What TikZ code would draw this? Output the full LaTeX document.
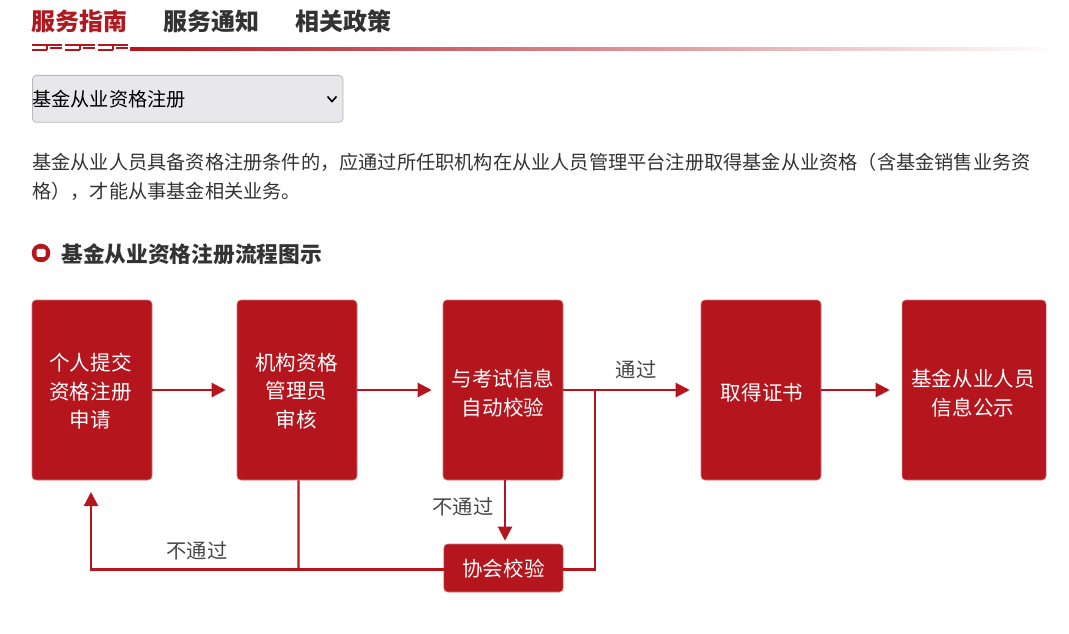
\documentclass[tikz,border=0pt]{standalone}
\usepackage{fontspec}
\setmainfont{Noto Sans CJK SC}
\usetikzlibrary{arrows.meta}
\definecolor{bred}{HTML}{B5151D}
\definecolor{tred}{HTML}{AF1A20}
\definecolor{dtxt}{HTML}{333333}
\definecolor{sel}{HTML}{E7E7EC}
\newcommand{\pxs}[1]{\fontsize{#1}{#1}\selectfont}
\newcommand{\btxt}[3]{\raisebox{#2}[0pt][0pt]{\hspace*{#1}\begin{tabular}{@{}c@{}}#3\end{tabular}}}
\tikzset{
  x=0.75pt,y=-0.75pt,
  flowbox/.style={fill=bred,draw=bred!60!white,line width=0.4pt,rounded corners=3pt,text=white,align=center,font=\pxs{15.4pt},inner sep=0pt},
  conn/.style={draw=bred,line width=1.6pt},
  arr/.style={conn,-{Triangle[length=10.5pt,width=10.5pt]}},
  lab/.style={text=dtxt!90!white,font=\pxs{15.2pt},inner sep=0pt},
  tab/.style={font=\pxs{18pt}\bfseries,inner sep=0pt,anchor=west},
  para/.style={text=dtxt,font=\pxs{14.4pt},inner sep=0pt,anchor=west},
}
\begin{document}
\begin{tikzpicture}
\useasboundingbox (0,0) rectangle (1069,634);
% tabs
\node[tab,text=tred] (t1) at (31,21) {服务指南};
\node[tab,text=dtxt] (t2) at (163,21) {服务通知};
\node[tab,text=dtxt] (t3) at (295,21) {相关政策};
% underline
\shade[left color=bred,right color=white,middle color=bred!50!white] (130,47.8) rectangle (1060,50.4);
% ornament
\foreach \a in {32,65,98}{
  \fill[bred] (\a,44) rectangle ++(30,2.2);
  \fill[bred] (\a,49) rectangle ++(15,2.2);
  \fill[bred] (\a+18,47.5) rectangle ++(12,2);
  \fill[bred] (\a+14,46) rectangle ++(1.6,4);
}
% select
\node[draw=black!28,fill=sel,line width=0.6pt,rounded corners=3pt,minimum width=233pt,minimum height=35.2pt,inner sep=0pt,anchor=north west] (sl) at (32,75) {};
\node[para,text=black] (sltxt) at (32,99) {基金从业资格注册};
\draw[black,line width=1.2pt] (327.5,96.5) -- (332,101.5) -- (336.5,96.5);
% paragraph
\node[para] (p1) at (32,162) {基金从业人员具备资格注册条件的，应通过所任职机构在从业人员管理平台注册取得基金从业资格（含基金销售业务资};
\node[para] (p2) at (32,191) {格），才能从事基金相关业务。};
% heading
\fill[bred] (41,253) circle (9.3);
\fill[white,rounded corners=1pt] (36.5,249) rectangle (45.5,257);
\node[para,font=\pxs{16.3pt}\bfseries] (h) at (61,254) {基金从业资格注册流程图示};
% boxes
\node[flowbox,minimum width=90pt,minimum height=135pt] (b1) at (92,390) {\btxt{-2.25pt}{-6.1pt}{个人提交\\[3.8pt]资格注册\\[3.8pt]申请}};
\node[flowbox,minimum width=90pt,minimum height=135pt] (b2) at (297,390) {\btxt{-0.75pt}{-6.1pt}{机构资格\\[3.8pt]管理员\\[3.8pt]审核}};
\node[flowbox,minimum width=90pt,minimum height=135pt] (b3) at (503,390) {\btxt{0pt}{-7.6pt}{与考试信息\\[3.8pt]自动校验}};
\node[flowbox,minimum width=90pt,minimum height=135pt] (b4) at (761,390) {\btxt{1.5pt}{-7.6pt}{取得证书}};
\node[flowbox,minimum width=108pt,minimum height=135pt] (b5) at (974,390) {\btxt{-1.5pt}{-7.6pt}{基金从业人员\\[3.8pt]信息公示}};
\node[flowbox,minimum width=89.5pt,minimum height=36pt] (b6) at (503.5,568) {\btxt{0pt}{-6.1pt}{协会校验}};
% free connector points
\coordinate (fb) at (91,492);
\coordinate (jl) at (91,569.5);
\coordinate (jm) at (298.5,569.5);
\coordinate (jr) at (595,569.5);
\coordinate (jt) at (595,390);
% connectors
\draw[arr,shorten >=8.25pt] (b1.east) -- (b2.west);
\draw[arr,shorten >=8.25pt] (b2.east) -- (b3.west);
\draw[arr,shorten >=8.25pt] (b3.east) -- (b4.west);
\draw[arr,shorten >=9pt] (b4.east) -- (b5.west);
\draw[arr,shorten >=2.25pt] ([xshift=1.5pt]b3.south) -- ([xshift=1.5pt]b3.south |- b6.north);
\draw[conn] ([xshift=1.1pt]b2.south) -- (jm);
\draw[arr] (b6.west |- jl) -- (jl) -- (fb);
\draw[conn] (b6.east |- jr) -- (jr) -- (jt);
% labels
\node[lab] (l1) at (636,370) {通过};
\node[lab] (l2) at (463,507) {不通过};
\node[lab] (l3) at (197,551) {不通过};
\end{tikzpicture}
\end{document}
